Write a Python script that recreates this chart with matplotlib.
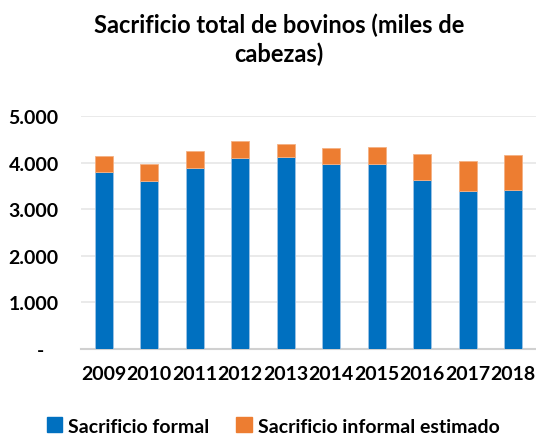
import matplotlib.pyplot as plt
from matplotlib.patches import Patch

# Sacrificio de bovinos, miles de cabezas
years = ['2009', '2010', '2011', '2012', '2013', '2014', '2015', '2016', '2017', '2018']
formal = [3806, 3613, 3886, 4108, 4123, 3966, 3972, 3634, 3385, 3419]
informal = [332, 359, 366, 359, 273, 357, 366, 546, 652, 747]
yticks = [0, 1000, 2000, 3000, 4000, 5000]
ytick_labels = ['-   ', '1.000', '2.000', '3.000', '4.000', '5.000']

blue = '#0070C0'
orange = '#ED7D31'
font = 'Lato'

fig = plt.figure(figsize=(5.36, 4.39), dpi=100)
ax = fig.add_axes([81 / 536, (439 - 349.7) / 439, (536 - 81) / 536, (349.7 - 117.3) / 439])

x = range(len(years))
ax.bar(x, formal, width=0.4, color=blue, edgecolor='#9DC3E6', linewidth=0.6, zorder=3)
ax.bar(x, informal, bottom=formal, width=0.4, color=orange, edgecolor='#F4B183',
       linewidth=0.6, zorder=3)

ax.set_xlim(-0.5, len(years) - 0.5)
ax.set_ylim(0, 5000)
ax.set_yticks(yticks)
ax.set_yticklabels(ytick_labels, fontfamily=font, fontweight='bold', fontsize=14)
ax.set_xticks(list(x))
ax.set_xticklabels(years, fontfamily=font, fontweight='bold', fontsize=14)
ax.tick_params(axis='y', length=0, pad=16)
ax.tick_params(axis='x', length=0, pad=12)
ax.yaxis.grid(True, color='#E6E6E6', linewidth=1.2, zorder=0)
for s in ['top', 'right', 'left']:
    ax.spines[s].set_visible(False)
ax.spines['bottom'].set_color('#D0D0D0')
ax.spines['bottom'].set_linewidth(1.5)

fig.text(279 / 536, 1 - 40 / 439, 'Sacrificio total de bovinos (miles de\ncabezas)',
         ha='center', va='center', fontfamily=font, fontweight='bold', fontsize=17,
         linespacing=1.25)

handles = [Patch(color=blue, label='Sacrificio formal'),
           Patch(color=orange, label='Sacrificio informal estimado')]
fig.legend(handles=handles, loc='center', bbox_to_anchor=(273 / 536, 1 - 427 / 439), ncol=2,
           frameon=False, handlelength=0.8, handleheight=0.8, handletextpad=0.3,
           columnspacing=1.4, prop={'family': font, 'weight': 'bold', 'size': 14})

fig.savefig('out.png', dpi=100)
